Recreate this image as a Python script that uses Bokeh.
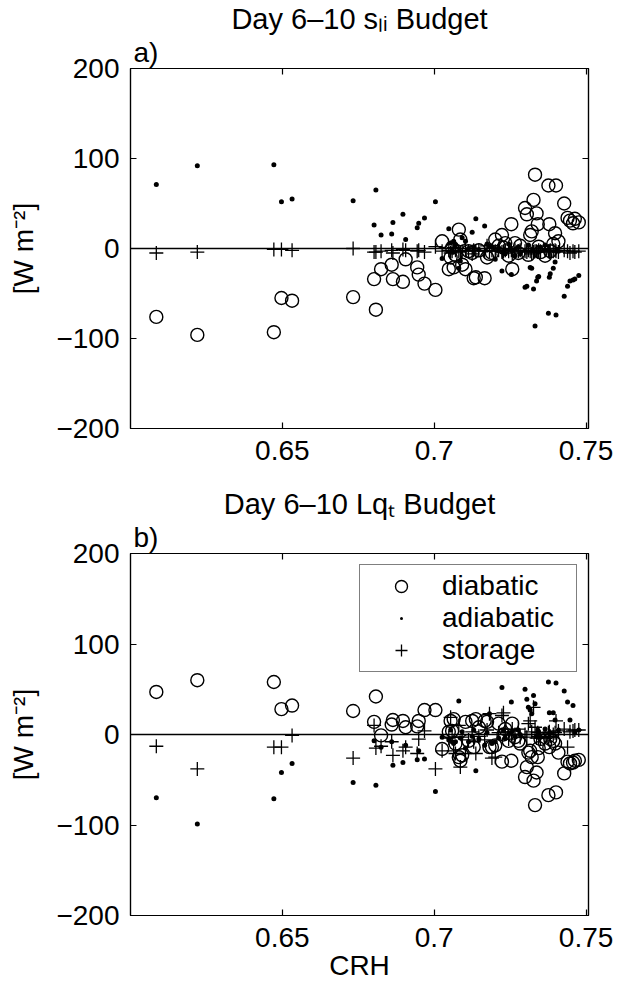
from bokeh.plotting import figure
from bokeh.models import (ColumnDataSource, Range1d, LinearAxis, FixedTicker, Span,
                          Title, Legend, LegendItem)
from bokeh.layouts import column
from bokeh.embed import file_html
from bokeh.resources import INLINE

# ---------------- data ----------------
crh = [0.6085, 0.6220, 0.6472, 0.6497, 0.6532, 0.6733,
       0.6802, 0.6808, 0.6825, 0.6860, 0.6864, 0.6897, 0.6906, 0.6944, 0.6949, 0.6968,
       0.7004, 0.7026, 0.7048, 0.7054, 0.7059, 0.7064, 0.7070, 0.7081, 0.7086, 0.7092,
       0.7103, 0.7113, 0.7125, 0.7130, 0.7137, 0.7147, 0.7166, 0.7174, 0.7182, 0.7190,
       0.7201, 0.7212, 0.7223, 0.7228, 0.7234, 0.7245, 0.7254, 0.7257, 0.7266, 0.7277,
       0.7283, 0.7299, 0.7305, 0.7310, 0.7316, 0.7321, 0.7327, 0.7332, 0.7337, 0.7341,
       0.7344, 0.7350, 0.7365, 0.7376, 0.7379, 0.7382, 0.7392, 0.7398, 0.7401, 0.7409,
       0.7428, 0.7439, 0.7447, 0.7457, 0.7463, 0.7476]

sli_diabatic = [-76, -96, -93, -55, -58, -54,
                -34, -68, -23, -18, -34, -37, -12, -21, -29, -39,
                -46, 8, -23, -10, 1, -21, -7, 21, 10, -18,
                -23, -3, -5, -33, -32, -2, -33, -10, -6, -5,
                10, 3, 15, 1, 6, -8, 27, -23, 6, -5,
                3, 45, 38, -7, 15, 19, 54, 82, 39, 27,
                2, -4, -8, 70, 27, -3, 5, 17, 70, 8,
                50, 34, 31, 28, 33, 29]
sli_adiabatic = [71, 92, 93, 52, 55, 53,
                 26, 65, 15, 16, 29, 38, 10, 23, 28, 34,
                 52, -11, 22, 6, -3, 8, 4, -22, -14, 12,
                 8, 0, 18, 2, 33, -1, 25, 5, 3, 2,
                 -12, 0, -25, -4, -6, 5, -29, -3, -8, 2,
                 -6, -43, -42, 4, -21, -22, -45, -86, -36, -32,
                 -31, 1, 4, -72, -32, -28, -22, -15, -74, -3,
                 -53, -42, -36, -35, -34, -30]
sli_storage = [-5, -4, -1, -1, -2, 0,
               -4, -4, -3, -2, -5, -1, -2, -3, -2, -4,
               2, -3, -2, -5, -3, 1, -2, -3, -4, -3,
               -2, -3, -6, -2, -3, -2, -3, 3, -3, -2,
               -3, -2, -4, -3, -2, -3, -2, -5, -2, -3,
               -2, -3, -4, -2, -3, -6, -4, -3, -3, -4,
               -2, -3, -2, -3, -4, -2, -3, -2, -3, -4,
               -2, -3, -5, -3, -4, -3]

lqt_diabatic = [47, 60, 58, 28, 32, 26,
                14, 42, -1, 11, 16, 15, 8, 9, 15, 27,
                27, -16, 3, 15, 4, 17, -10, -25, -29, -23,
                14, -7, 15, -14, 17, 8, 15, 14, -14, -14,
                -12, 12, -30, 0, 6, -7, -29, 12, -3, -7,
                -10, -47, -36, -20, -18, -25, -51, -78, -42, -25,
                -15, -5, -10, -67, -14, -5, -7, -10, -64, -20,
                -43, -30, -32, -31, -29, -28]
lqt_adiabatic = [-70, -99, -71, -42, -32, -53,
                 -7, -56, -14, -8, -34, -31, -12, -28, -18, -27,
                 -63, -3, -6, 5, -8, -10, -8, 37, -4, 3,
                 -15, -8, -2, 5, -40, -5, -12, 2, 23, -10,
                 -8, -4, 52, 4, -4, 2, 36, 3, -2, 5,
                 0, 50, 39, 30, 27, 23, 43, 34, -2, 5,
                 3, -3, 6, 58, 24, 2, 24, 16, 57, 5,
                 48, 36, 16, 32, 2, 5]
lqt_storage = [-13, -38, -14, -14, -1, -26,
               10, -15, -13, -8, -23, -18, -14, -21, -5, 4,
               -38, -18, -4, 19, -3, -18, -21, 10, -36, -3,
               -21, -6, 3, -8, -21, -2, -6, 5, 23, -26,
               -25, 2, 21, 24, 3, -5, 0, 6, 0, 6,
               -3, 0, -3, 12, 15, 3, 30, 8, -4, 2,
               -2, -4, -3, 2, 3, -2, 0, 2, 15, 4,
               6, -14, 3, 4, 5, 5]

x_ticks = [0.65, 0.7, 0.75]
x_tick_labels = ["0.65", "0.7", "0.75"]
y_ticks = [-200, -100, 0, 100, 200]
y_tick_labels = ["\u2212200", "\u2212100", "0", "100", "200"]
series_names = ["diabatic", "adiabatic", "storage"]

FONT = "Liberation Sans"
FS = "28px"
X_LO, X_HI = 0.6, 0.7508


def make_fig(height, top, bottom, title_text, panel_tag, xlabel=None):
    p = figure(width=619, height=height,
               x_range=Range1d(X_LO, X_HI), y_range=Range1d(-200, 200),
               output_backend="svg", toolbar_location=None,
               min_border_left=130, min_border_right=31,
               min_border_top=top, min_border_bottom=bottom)
    p.grid.visible = False
    p.outline_line_color = "black"
    p.outline_line_width = 1.2
    p.background_fill_color = "white"
    p.border_fill_color = "white"

    p.add_layout(LinearAxis(), "above")
    p.add_layout(LinearAxis(), "right")
    for ax in p.xaxis:
        ax.ticker = FixedTicker(ticks=x_ticks)
    for ax in p.yaxis:
        ax.ticker = FixedTicker(ticks=y_ticks)
    for ax in p.axis:
        ax.major_tick_in = 6
        ax.major_tick_out = 0
        ax.minor_tick_in = 0
        ax.minor_tick_out = 0
        ax.axis_line_color = "black"
        ax.axis_line_width = 1.2
        ax.major_tick_line_color = "black"
        ax.major_tick_line_width = 1.2
        ax.major_label_text_font = FONT
        ax.major_label_text_font_size = FS
        ax.major_label_text_color = "black"
    # labelled axes
    p.below[0].major_label_overrides = dict(zip(x_ticks, x_tick_labels))
    p.below[0].major_label_standoff = 12
    p.left[0].major_label_overrides = dict(zip(y_ticks, y_tick_labels))
    p.left[0].major_label_standoff = 11
    p.left[0].axis_label = "[W m\u207b\u00b2]"
    p.left[0].axis_label_text_font = FONT
    p.left[0].axis_label_text_font_size = FS
    p.left[0].axis_label_text_font_style = "normal"
    p.left[0].axis_label_text_color = "black"
    p.left[0].axis_label_standoff = 14
    if xlabel:
        p.below[0].axis_label = xlabel
        p.below[0].axis_label_text_font = FONT
        p.below[0].axis_label_text_font_size = FS
        p.below[0].axis_label_text_font_style = "normal"
        p.below[0].axis_label_text_color = "black"
        p.below[0].axis_label_standoff = 0
    # unlabelled box axes (top and right ticks only)
    for ax, ticks in ((p.above[0], x_ticks), (p.right[0], y_ticks)):
        ax.major_label_overrides = {t: "" for t in ticks}
        ax.major_label_standoff = 0
        ax.major_label_text_font_size = "1px"

    p.add_layout(Span(location=0, dimension="width", line_color="black", line_width=1.3))

    # panel letter (nearest the frame) and title above it
    p.add_layout(Title(text=panel_tag, align="left", offset=3, standoff=1,
                       text_font=FONT, text_font_size=FS, text_font_style="normal",
                       text_color="black"), "above")
    p.add_layout(Title(text=title_text, align="center", standoff=0,
                       text_font=FONT, text_font_size="29px", text_font_style="normal",
                       text_color="black"), "above")
    return p


def add_points(p, d, a, s):
    src = ColumnDataSource(dict(crh=crh, d=d, a=a, s=s))
    r_d = p.scatter("crh", "d", source=src, marker="circle", size=13,
                    fill_color=None, line_color="black", line_width=1.4)
    r_a = p.scatter("crh", "a", source=src, marker="dot", size=20,
                    fill_color="black", line_color="black")
    r_s = p.scatter("crh", "s", source=src, marker="cross", size=14,
                    line_color="black", line_width=1.3)
    return r_d, r_a, r_s


p1 = make_fig(470, 66, 42, "Day 6\u201310 s\u2097\u1d62 Budget", "a)")
add_points(p1, sli_diabatic, sli_adiabatic, sli_storage)

p2 = make_fig(515, 83, 70, "Day 6\u201310 Lq\u209c Budget", "b)", xlabel="CRH")
rs = add_points(p2, lqt_diabatic, lqt_adiabatic, lqt_storage)

legend = Legend(items=[LegendItem(label=n, renderers=[r]) for n, r in zip(series_names, rs)],
                location="top_right", margin=11, padding=5, spacing=0,
                glyph_width=72, glyph_height=30, label_width=129, label_height=30,
                label_standoff=5, label_text_font=FONT, label_text_font_size=FS,
                label_text_color="black",
                border_line_color="black", border_line_width=1.2,
                background_fill_color="white", background_fill_alpha=1.0)
p2.add_layout(legend)

layout = column(p1, p2, spacing=0)
open("out.html", "w").write(file_html(layout, INLINE))
